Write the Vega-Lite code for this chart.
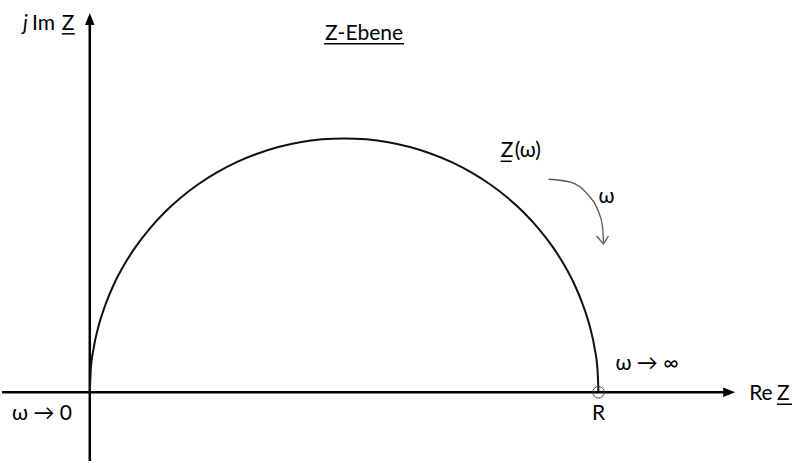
{
  "$schema": "https://vega.github.io/schema/vega-lite/v6.json",
  "width": 795,
  "height": 463,
  "autosize": {"type": "fit", "contains": "padding"},
  "padding": 0,
  "background": "white",
  "config": {"view": {"stroke": null}},
  "datasets": {
    "curve": [
      {"x": 0.0, "y": 0.0}, {"x": 0.0019, "y": 0.0436}, {"x": 0.0076, "y": 0.0868}, {"x": 0.017, "y": 0.1294},
      {"x": 0.0302, "y": 0.171}, {"x": 0.0468, "y": 0.2113}, {"x": 0.067, "y": 0.25}, {"x": 0.0904, "y": 0.2868},
      {"x": 0.117, "y": 0.3214}, {"x": 0.1464, "y": 0.3536}, {"x": 0.1786, "y": 0.383}, {"x": 0.2132, "y": 0.4096},
      {"x": 0.25, "y": 0.433}, {"x": 0.2887, "y": 0.4532}, {"x": 0.329, "y": 0.4698}, {"x": 0.3706, "y": 0.483},
      {"x": 0.4132, "y": 0.4924}, {"x": 0.4564, "y": 0.4981}, {"x": 0.5, "y": 0.5}, {"x": 0.5436, "y": 0.4981},
      {"x": 0.5868, "y": 0.4924}, {"x": 0.6294, "y": 0.483}, {"x": 0.671, "y": 0.4698}, {"x": 0.7113, "y": 0.4532},
      {"x": 0.75, "y": 0.433}, {"x": 0.7868, "y": 0.4096}, {"x": 0.8214, "y": 0.383}, {"x": 0.8536, "y": 0.3536},
      {"x": 0.883, "y": 0.3214}, {"x": 0.9096, "y": 0.2868}, {"x": 0.933, "y": 0.25}, {"x": 0.9532, "y": 0.2113},
      {"x": 0.9698, "y": 0.171}, {"x": 0.983, "y": 0.1294}, {"x": 0.9924, "y": 0.0868}, {"x": 0.9981, "y": 0.0436},
      {"x": 1.0, "y": 0.0}
    ],
    "omegaArc": [
      {"x": 0.902, "y": 0.4196}, {"x": 0.9451, "y": 0.4137}, {"x": 0.9784, "y": 0.3902},
      {"x": 0.998, "y": 0.3608}, {"x": 1.0078, "y": 0.3275}, {"x": 1.0098, "y": 0.2961}
    ],
    "omegaHead": [
      {"x": 0.9961, "y": 0.3078}, {"x": 1.0098, "y": 0.2922}, {"x": 1.0196, "y": 0.3078}
    ],
    "axes": [
      {"x": -0.17255, "x2": 1.255, "y": 0.0, "y2": 0.0},
      {"x": 0.0, "x2": 0.0, "y": -0.13529, "y2": 0.735}
    ],
    "underlines": [
      {"x": -0.0549, "x2": -0.0294, "y": 0.7059},
      {"x": 0.4608, "x2": 0.6176, "y": 0.6863},
      {"x": 0.8078, "x2": 0.8294, "y": 0.4549},
      {"x": 1.351, "x2": 1.3804, "y": -0.0235}
    ],
    "labelsLeft": [
      {"x": -0.1137, "y": 0.7137, "label": "Im"},
      {"x": -0.0549, "y": 0.7137, "label": "Z"},
      {"x": 0.8078, "y": 0.4627, "label": "Z"},
      {"x": 0.8353, "y": 0.4627, "label": "(ω)"},
      {"x": 1.0, "y": 0.3725, "label": "ω"},
      {"x": 1.0333, "y": 0.0431, "label": "ω → ∞"},
      {"x": 1.2961, "y": -0.0157, "label": "Re"},
      {"x": 1.351, "y": -0.0157, "label": "Z"},
      {"x": -0.1529, "y": -0.0549, "label": "ω → 0"}
    ],
    "labelsCenter": [
      {"x": 0.5392, "y": 0.6941, "label": "Z-Ebene"},
      {"x": 1.0, "y": -0.0549, "label": "R"}
    ],
    "labelsItalic": [
      {"x": -0.1314, "y": 0.7137, "label": "j"}
    ],
    "rPoint": [{"x": 1.0, "y": 0.0}],
    "arrowRight": [{"x": 1.2569, "y": 0.0}],
    "arrowUp": [{"x": 0.0, "y": 0.7353}]
  },
  "encoding": {
    "x": {"field": "x", "type": "quantitative", "scale": {"domain": [-0.17255, 1.38627], "nice": false, "zero": false}, "axis": null},
    "y": {"field": "y", "type": "quantitative", "scale": {"domain": [-0.13529, 0.77255], "nice": false, "zero": false}, "axis": null}
  },
  "layer": [
    {
      "data": {"name": "axes"},
      "mark": {"type": "rule", "color": "black", "strokeWidth": 2.5},
      "encoding": {"x2": {"field": "x2"}, "y2": {"field": "y2"}}
    },
    {
      "data": {"name": "arrowRight"},
      "mark": {"type": "point", "shape": "M1,0 L-1,-0.8 L-1,0.8 Z", "filled": true, "color": "black", "size": 144, "opacity": 1}
    },
    {
      "data": {"name": "arrowUp"},
      "mark": {"type": "point", "shape": "M0,-1 L-0.8,1 L0.8,1 Z", "filled": true, "color": "black", "size": 144, "opacity": 1}
    },
    {
      "data": {"name": "curve"},
      "mark": {"type": "line", "color": "#111", "strokeWidth": 2, "interpolate": "monotone"}
    },
    {
      "data": {"name": "omegaArc"},
      "mark": {"type": "line", "color": "#555", "strokeWidth": 1.3, "interpolate": "monotone"}
    },
    {
      "data": {"name": "omegaHead"},
      "mark": {"type": "line", "color": "#555", "strokeWidth": 1.3}
    },
    {
      "data": {"name": "rPoint"},
      "mark": {"type": "point", "shape": "circle", "filled": false, "color": "#444", "strokeWidth": 1, "size": 133, "opacity": 1}
    },
    {
      "data": {"name": "underlines"},
      "mark": {"type": "rule", "color": "black", "strokeWidth": 1.5},
      "encoding": {"x2": {"field": "x2"}}
    },
    {
      "data": {"name": "labelsLeft"},
      "mark": {"type": "text", "align": "left", "baseline": "alphabetic", "font": "Lato", "fontSize": 21, "color": "black"},
      "encoding": {"text": {"field": "label"}}
    },
    {
      "data": {"name": "labelsCenter"},
      "mark": {"type": "text", "align": "center", "baseline": "alphabetic", "font": "Lato", "fontSize": 21, "color": "black"},
      "encoding": {"text": {"field": "label"}}
    },
    {
      "data": {"name": "labelsItalic"},
      "mark": {"type": "text", "align": "left", "baseline": "alphabetic", "font": "Lato", "fontSize": 21, "fontStyle": "italic", "color": "black"},
      "encoding": {"text": {"field": "label"}}
    }
  ]
}
